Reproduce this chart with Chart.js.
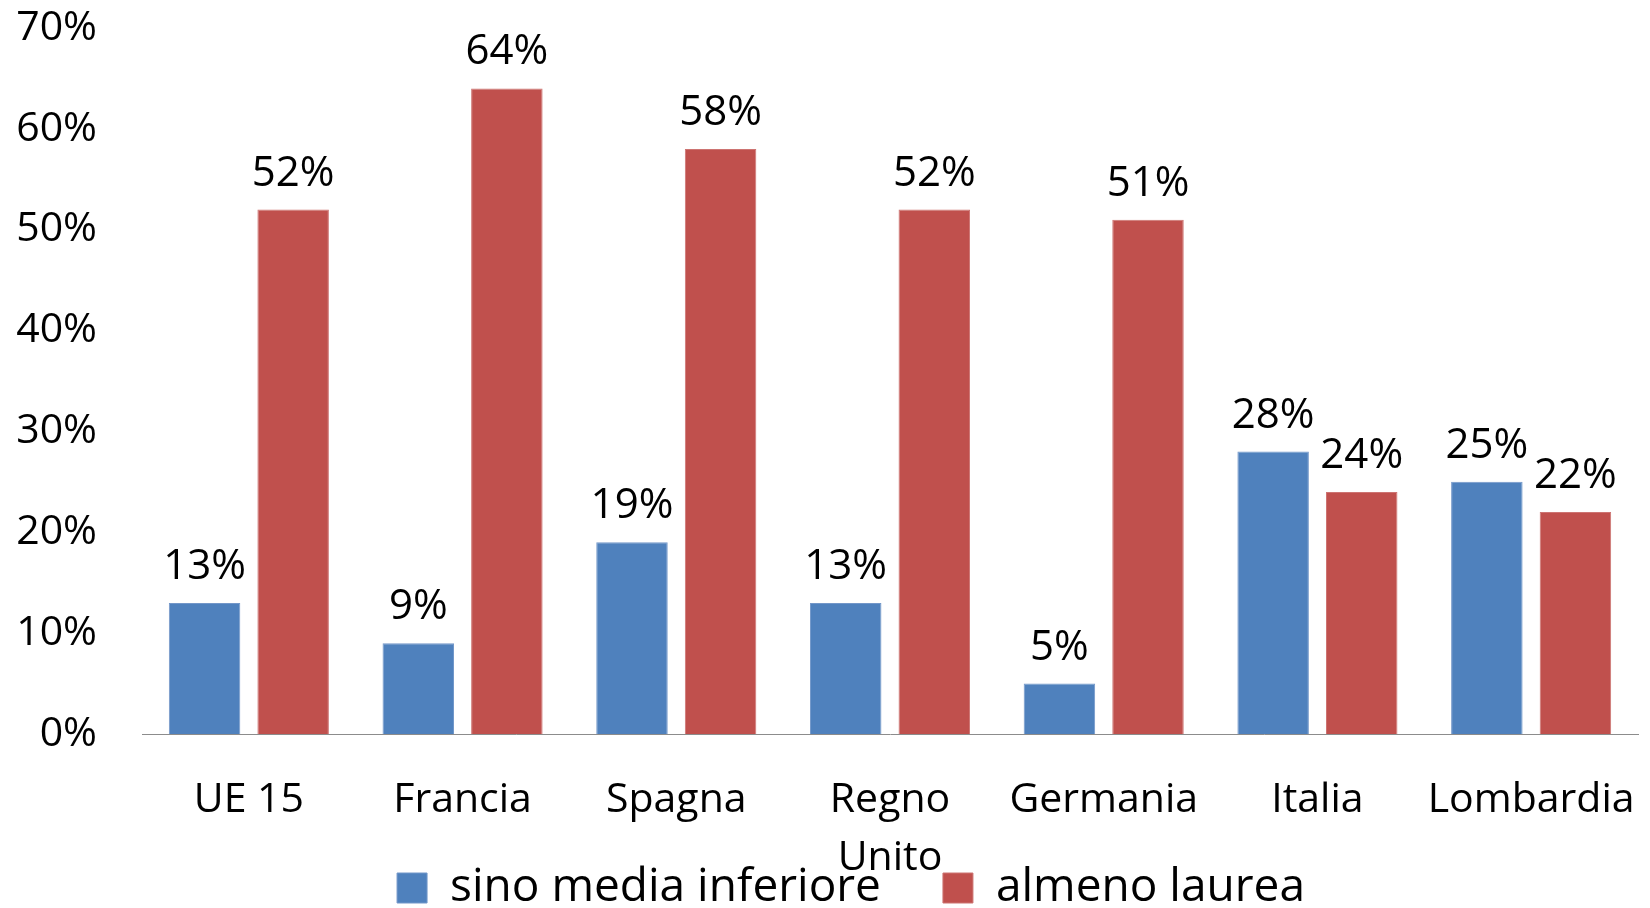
<!DOCTYPE html>
<html>
<head>
<meta charset="utf-8">
<script src="https://cdn.jsdelivr.net/npm/chart.js@4/dist/chart.umd.min.js"></script>
<style>
  body { margin: 0; background: #fff; }
</style>
</head>
<body>
<canvas id="myChart" width="1650" height="908"></canvas>
<script>
var categories = ['UE 15', 'Francia', 'Spagna', ['Regno', 'Unito'], 'Germania', 'Italia', 'Lombardia'];
var sinoMedia = [13, 9, 19, 13, 5, 28, 25];
var almenoLaurea = [52, 64, 58, 52, 51, 24, 22];
var yTicks = [0, 10, 20, 30, 40, 50, 60, 70];

// labels above bars
var valueLabels = {
    id: 'valueLabels',
    afterDatasetsDraw: function(chart) {
        var ctx = chart.ctx;
        ctx.save();
        ctx.font = '42px "Open Sans"';
        ctx.fillStyle = '#000';
        ctx.textAlign = 'center';
        ctx.textBaseline = 'middle';
        chart.data.datasets.forEach(function(ds, i) {
            chart.getDatasetMeta(i).data.forEach(function(bar, j) {
                ctx.fillText(ds.data[j] + '%', bar.x, bar.y - 36);
            });
        });
        ctx.restore();
    }
};

// let the x labels run into the legend band (not clipped), nudge legend right
var layoutTweak = {
    id: 'layoutTweak',
    afterLayout: function(chart) {
        chart.scales.x.bottom = chart.height;
        chart.legend.left += 64;
    }
};

var ctx = document.getElementById('myChart').getContext('2d');
var myChart = new Chart(ctx, {
    type: 'bar',
    data: {
        labels: categories,
        datasets: [{
            label: 'sino media inferiore',
            data: sinoMedia,
            backgroundColor: '#4F81BD',
            borderColor: '#7397c9',
            borderWidth: 1
        }, {
            label: 'almeno laurea',
            data: almenoLaurea,
            backgroundColor: '#C0504D',
            borderColor: '#cd7472',
            borderWidth: 1
        }]
    },
    options: {
        responsive: false,
        animation: false,
        devicePixelRatio: 1,
        layout: { padding: { top: 28, left: 0, right: 12, bottom: -13 } },
        datasets: { bar: { categoryPercentage: 0.829, barPercentage: 0.807 } },
        plugins: {
            tooltip: { enabled: false },
            legend: {
                position: 'bottom',
                labels: {
                    boxWidth: 30,
                    boxHeight: 30,
                    padding: 62,
                    color: '#000',
                    font: { family: '"Open Sans"', size: 46 }
                }
            }
        },
        scales: {
            x: {
                grid: { display: false, drawTicks: false },
                border: { display: true, color: '#8c8c8c', width: 1 },
                ticks: {
                    color: '#000',
                    padding: 38,
                    maxRotation: 0,
                    autoSkip: false,
                    font: { family: '"Open Sans"', size: 41, lineHeight: 1.4 }
                },
                afterFit: function(scale) {
                    scale.height = 69;
                    scale.paddingLeft = 0;
                    scale.paddingRight = 0;
                }
            },
            y: {
                min: yTicks[0],
                max: yTicks[yTicks.length - 1],
                grid: { display: false, drawTicks: false },
                border: { display: false },
                afterBuildTicks: function(scale) {
                    scale.ticks = yTicks.map(function(v) { return { value: v }; });
                },
                ticks: {
                    color: '#000',
                    padding: 45,
                    font: { family: '"Open Sans"', size: 41 },
                    callback: function(v) { return v + '%'; }
                },
                afterFit: function(scale) {
                    scale.width = 142;
                    scale.paddingTop = 0;
                    scale.paddingBottom = 0;
                }
            }
        }
    },
    plugins: [valueLabels, layoutTweak]
});
</script>
</body>
</html>
